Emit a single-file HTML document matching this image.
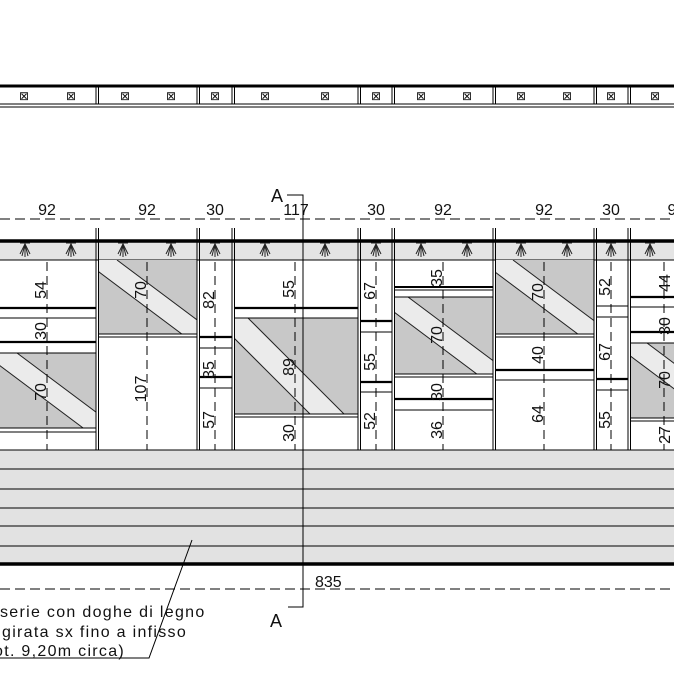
<!DOCTYPE html>
<html><head><meta charset="utf-8"><style>
html,body{margin:0;padding:0;background:#fff;}
svg{display:block;}
text{font-family:"Liberation Sans",sans-serif;fill:#111;}
</style></head><body>
<svg width="674" height="674" viewBox="0 0 674 674" xmlns="http://www.w3.org/2000/svg">
<defs>
<clipPath id="c1"><rect x="0" y="353" width="96" height="75"/></clipPath>
<clipPath id="c2"><rect x="99" y="260" width="98" height="74"/></clipPath>
<clipPath id="c4"><rect x="234" y="318" width="124" height="96"/></clipPath>
<clipPath id="c6"><rect x="394" y="297" width="99" height="77"/></clipPath>
<clipPath id="c7"><rect x="495" y="260" width="99" height="74"/></clipPath>
<clipPath id="c9"><rect x="630" y="343" width="44" height="75"/></clipPath>
<g id="fx" stroke="#222" stroke-width="1"><line x1="-5" y1="243" x2="5" y2="243"/><line x1="0" y1="243" x2="0" y2="257"/><line x1="0" y1="244" x2="-5" y2="254"/><line x1="0" y1="244" x2="5" y2="254"/><line x1="0" y1="244" x2="-3" y2="256"/><line x1="0" y1="244" x2="3" y2="256"/></g>
</defs>

<!-- top band -->
<line x1="0" y1="86" x2="674" y2="86" stroke="#000" stroke-width="3"/>
<line x1="0" y1="104" x2="674" y2="104" stroke="#000" stroke-width="1"/>
<line x1="0" y1="107" x2="674" y2="107" stroke="#000" stroke-width="1"/>
<g stroke="#000" stroke-width="1">
<line x1="96" y1="87" x2="96" y2="104"/><line x1="98.5" y1="87" x2="98.5" y2="104"/>
<line x1="197" y1="87" x2="197" y2="104"/><line x1="199.5" y1="87" x2="199.5" y2="104"/>
<line x1="232" y1="87" x2="232" y2="104"/><line x1="234.5" y1="87" x2="234.5" y2="104"/>
<line x1="358" y1="87" x2="358" y2="104"/><line x1="360.5" y1="87" x2="360.5" y2="104"/>
<line x1="392" y1="87" x2="392" y2="104"/><line x1="394.5" y1="87" x2="394.5" y2="104"/>
<line x1="493" y1="87" x2="493" y2="104"/><line x1="495.5" y1="87" x2="495.5" y2="104"/>
<line x1="594" y1="87" x2="594" y2="104"/><line x1="596.5" y1="87" x2="596.5" y2="104"/>
<line x1="628" y1="87" x2="628" y2="104"/><line x1="630.5" y1="87" x2="630.5" y2="104"/>
</g>
<g font-size="12" text-anchor="middle" fill="#222">
<text x="24" y="100">⊠</text><text x="71" y="100">⊠</text>
<text x="125" y="100">⊠</text><text x="171" y="100">⊠</text>
<text x="215" y="100">⊠</text>
<text x="265" y="100">⊠</text><text x="325" y="100">⊠</text>
<text x="376" y="100">⊠</text>
<text x="421" y="100">⊠</text><text x="467" y="100">⊠</text>
<text x="521" y="100">⊠</text><text x="567" y="100">⊠</text>
<text x="611" y="100">⊠</text><text x="655" y="100">⊠</text>
</g>

<!-- top dimension line -->
<line x1="0" y1="219" x2="674" y2="219" stroke="#000" stroke-width="1" stroke-dasharray="10 5"/>
<g font-size="16" text-anchor="middle">
<text x="47" y="215">92</text><text x="147" y="215">92</text><text x="215" y="215">30</text>
<text x="296" y="215">117</text><text x="376" y="215">30</text><text x="443" y="215">92</text>
<text x="544" y="215">92</text><text x="611" y="215">30</text><text x="672" y="215">9</text>
</g>

<!-- grey header band & fixtures -->
<rect x="0" y="242" width="674" height="18" fill="#e4e4e4"/>
<line x1="0" y1="241" x2="674" y2="241" stroke="#000" stroke-width="3.5"/>
<line x1="0" y1="260" x2="674" y2="260" stroke="#000" stroke-width="1"/>
<g>
<use href="#fx" x="25"/><use href="#fx" x="71"/><use href="#fx" x="123"/><use href="#fx" x="171"/>
<use href="#fx" x="215"/><use href="#fx" x="265"/><use href="#fx" x="325"/><use href="#fx" x="376"/>
<use href="#fx" x="421"/><use href="#fx" x="467"/><use href="#fx" x="521"/><use href="#fx" x="567"/>
<use href="#fx" x="611"/><use href="#fx" x="650"/>
</g>

<!-- glass panels -->
<g stroke="#222" stroke-width="1">
<g clip-path="url(#c1)"><rect x="0" y="353" width="96" height="75" fill="#c8c8c8" stroke="none"/>
<polygon points="-17,353 17,353 284,553 250,553" fill="#ebebeb" stroke="none"/>
<line x1="17" y1="353" x2="284" y2="553"/><line x1="-17" y1="353" x2="250" y2="553"/></g>
<g clip-path="url(#c2)"><rect x="99" y="260" width="98" height="74" fill="#c8c8c8" stroke="none"/>
<polygon points="83,260 117,260 384,460 350,460" fill="#ebebeb" stroke="none"/>
<line x1="117" y1="260" x2="384" y2="460"/><line x1="83" y1="260" x2="350" y2="460"/></g>
<g clip-path="url(#c4)"><rect x="234" y="318" width="124" height="96" fill="#c8c8c8" stroke="none"/>
<polygon points="214,318 248,318 448,518 414,518" fill="#ebebeb" stroke="none"/>
<line x1="248" y1="318" x2="448" y2="518"/><line x1="214" y1="318" x2="414" y2="518"/></g>
<g clip-path="url(#c6)"><rect x="394" y="297" width="99" height="77" fill="#c8c8c8" stroke="none"/>
<polygon points="374,297 408,297 675,497 641,497" fill="#ebebeb" stroke="none"/>
<line x1="408" y1="297" x2="675" y2="497"/><line x1="374" y1="297" x2="641" y2="497"/></g>
<g clip-path="url(#c7)"><rect x="495" y="260" width="99" height="74" fill="#c8c8c8" stroke="none"/>
<polygon points="479,260 513,260 780,460 746,460" fill="#ebebeb" stroke="none"/>
<line x1="513" y1="260" x2="780" y2="460"/><line x1="479" y1="260" x2="746" y2="460"/></g>
<g clip-path="url(#c9)"><rect x="630" y="343" width="44" height="75" fill="#c8c8c8" stroke="none"/>
<polygon points="613,343 647,343 914,543 880,543" fill="#ebebeb" stroke="none"/>
<line x1="647" y1="343" x2="914" y2="543"/><line x1="613" y1="343" x2="880" y2="543"/></g>
</g>

<!-- horizontal rails -->
<g stroke="#000">
<line x1="0" y1="308" x2="96" y2="308" stroke-width="2.2"/><line x1="0" y1="318" x2="96" y2="318" stroke-width="1"/>
<line x1="0" y1="342" x2="96" y2="342" stroke-width="2.2"/><line x1="0" y1="353" x2="96" y2="353" stroke-width="1"/>
<line x1="0" y1="428" x2="96" y2="428" stroke-width="1"/><line x1="0" y1="432" x2="96" y2="432" stroke-width="1"/>
<line x1="99" y1="334" x2="197" y2="334" stroke-width="1"/><line x1="99" y1="337" x2="197" y2="337" stroke-width="1"/>
<line x1="199" y1="337" x2="232" y2="337" stroke-width="2.2"/><line x1="199" y1="348" x2="232" y2="348" stroke-width="1"/>
<line x1="199" y1="377" x2="232" y2="377" stroke-width="2.2"/><line x1="199" y1="388" x2="232" y2="388" stroke-width="1"/>
<line x1="234" y1="308" x2="358" y2="308" stroke-width="2.2"/><line x1="234" y1="318" x2="358" y2="318" stroke-width="1"/>
<line x1="234" y1="414" x2="358" y2="414" stroke-width="1"/><line x1="234" y1="417" x2="358" y2="417" stroke-width="1"/>
<line x1="361" y1="321" x2="392" y2="321" stroke-width="2.2"/><line x1="361" y1="332" x2="392" y2="332" stroke-width="1"/>
<line x1="361" y1="382" x2="392" y2="382" stroke-width="2.2"/><line x1="361" y1="392" x2="392" y2="392" stroke-width="1"/>
<line x1="394" y1="287" x2="493" y2="287" stroke-width="2"/><line x1="394" y1="290" x2="493" y2="290" stroke-width="1"/><line x1="394" y1="297" x2="493" y2="297" stroke-width="1"/>
<line x1="394" y1="374" x2="493" y2="374" stroke-width="1"/><line x1="394" y1="377" x2="493" y2="377" stroke-width="1"/>
<line x1="394" y1="399" x2="493" y2="399" stroke-width="2.2"/><line x1="394" y1="410" x2="493" y2="410" stroke-width="1"/>
<line x1="495" y1="334" x2="594" y2="334" stroke-width="1"/><line x1="495" y1="337" x2="594" y2="337" stroke-width="1"/>
<line x1="495" y1="370" x2="594" y2="370" stroke-width="2.2"/><line x1="495" y1="380" x2="594" y2="380" stroke-width="1"/>
<line x1="596" y1="306" x2="628" y2="306" stroke-width="1"/><line x1="596" y1="317" x2="628" y2="317" stroke-width="1"/>
<line x1="596" y1="379" x2="628" y2="379" stroke-width="2.2"/><line x1="596" y1="390" x2="628" y2="390" stroke-width="1"/>
<line x1="630" y1="297" x2="674" y2="297" stroke-width="2.2"/><line x1="630" y1="307" x2="674" y2="307" stroke-width="1"/>
<line x1="630" y1="332" x2="674" y2="332" stroke-width="2.2"/><line x1="630" y1="343" x2="674" y2="343" stroke-width="1"/>
<line x1="630" y1="418" x2="674" y2="418" stroke-width="1"/><line x1="630" y1="421" x2="674" y2="421" stroke-width="1"/>
</g>

<!-- column boundary double lines -->
<g stroke="#000" stroke-width="1">
<line x1="96" y1="228" x2="96" y2="450"/><line x1="98.5" y1="228" x2="98.5" y2="450"/>
<line x1="197" y1="228" x2="197" y2="450"/><line x1="199.5" y1="228" x2="199.5" y2="450"/>
<line x1="232" y1="228" x2="232" y2="450"/><line x1="234.5" y1="228" x2="234.5" y2="450"/>
<line x1="358" y1="228" x2="358" y2="450"/><line x1="360.5" y1="228" x2="360.5" y2="450"/>
<line x1="392" y1="228" x2="392" y2="450"/><line x1="394.5" y1="228" x2="394.5" y2="450"/>
<line x1="493" y1="228" x2="493" y2="450"/><line x1="495.5" y1="228" x2="495.5" y2="450"/>
<line x1="594" y1="228" x2="594" y2="450"/><line x1="596.5" y1="228" x2="596.5" y2="450"/>
<line x1="628" y1="228" x2="628" y2="450"/><line x1="630.5" y1="228" x2="630.5" y2="450"/>
</g>

<!-- vertical dashed dims -->
<g stroke="#000" stroke-width="1" stroke-dasharray="9 5">
<line x1="47" y1="262" x2="47" y2="470"/><line x1="147" y1="262" x2="147" y2="450"/>
<line x1="215" y1="262" x2="215" y2="450"/><line x1="295" y1="262" x2="295" y2="450"/>
<line x1="376" y1="262" x2="376" y2="450"/><line x1="443" y1="262" x2="443" y2="450"/>
<line x1="544" y1="262" x2="544" y2="450"/><line x1="611" y1="262" x2="611" y2="450"/>
<line x1="664" y1="262" x2="664" y2="450"/>
</g>
<g font-size="16" text-anchor="middle">
<text transform="translate(46,290) rotate(-90)">54</text>
<text transform="translate(46,331) rotate(-90)">30</text>
<text transform="translate(46,392) rotate(-90)">70</text>
<text transform="translate(46,461) rotate(-90)">17</text>
<text transform="translate(146,290) rotate(-90)">70</text>
<text transform="translate(146,389) rotate(-90)">107</text>
<text transform="translate(214,300) rotate(-90)">82</text>
<text transform="translate(214,370) rotate(-90)">35</text>
<text transform="translate(214,420) rotate(-90)">57</text>
<text transform="translate(294,289) rotate(-90)">55</text>
<text transform="translate(294,367) rotate(-90)">89</text>
<text transform="translate(294,433) rotate(-90)">30</text>
<text transform="translate(375,291) rotate(-90)">67</text>
<text transform="translate(375,362) rotate(-90)">55</text>
<text transform="translate(375,421) rotate(-90)">52</text>
<text transform="translate(442,278) rotate(-90)">35</text>
<text transform="translate(442,335) rotate(-90)">70</text>
<text transform="translate(442,392) rotate(-90)">30</text>
<text transform="translate(442,430) rotate(-90)">36</text>
<text transform="translate(543,292) rotate(-90)">70</text>
<text transform="translate(543,355) rotate(-90)">40</text>
<text transform="translate(543,414) rotate(-90)">64</text>
<text transform="translate(610,287) rotate(-90)">52</text>
<text transform="translate(610,352) rotate(-90)">67</text>
<text transform="translate(610,420) rotate(-90)">55</text>
<text transform="translate(670,283) rotate(-90)">44</text>
<text transform="translate(670,326) rotate(-90)">30</text>
<text transform="translate(670,380) rotate(-90)">70</text>
<text transform="translate(670,435) rotate(-90)">27</text>
</g>

<!-- floor boards -->
<rect x="0" y="450" width="674" height="113" fill="#e2e2e2"/>
<g stroke="#000" stroke-width="1">
<line x1="0" y1="450" x2="674" y2="450"/>
<line x1="0" y1="469" x2="674" y2="469"/>
<line x1="0" y1="489" x2="674" y2="489"/>
<line x1="0" y1="508" x2="674" y2="508"/>
<line x1="0" y1="526" x2="674" y2="526"/>
<line x1="0" y1="546" x2="674" y2="546"/>
</g>
<line x1="0" y1="564" x2="674" y2="564" stroke="#000" stroke-width="3.5"/>

<!-- bottom dim -->
<line x1="0" y1="589" x2="674" y2="589" stroke="#000" stroke-width="1" stroke-dasharray="10 5"/>
<text x="315" y="587" font-size="16">835</text>

<!-- section line A -->
<polyline points="287,195 303,195 303,607 288,607" stroke="#000" stroke-width="1" fill="none"/>
<text x="271" y="202" font-size="18">A</text>
<text x="270" y="627" font-size="18">A</text>

<!-- leader & note -->
<polyline points="192,540 149,658 0,658" stroke="#000" stroke-width="1" fill="none"/>
<g font-size="16" letter-spacing="1.3" fill="#111">
<text x="0" y="617">serie con doghe di legno</text>
<text x="2" y="637">girata sx fino a infisso</text>
<text x="-6" y="656">ot. 9,20m circa)</text>
</g>
</svg>
</body></html>
